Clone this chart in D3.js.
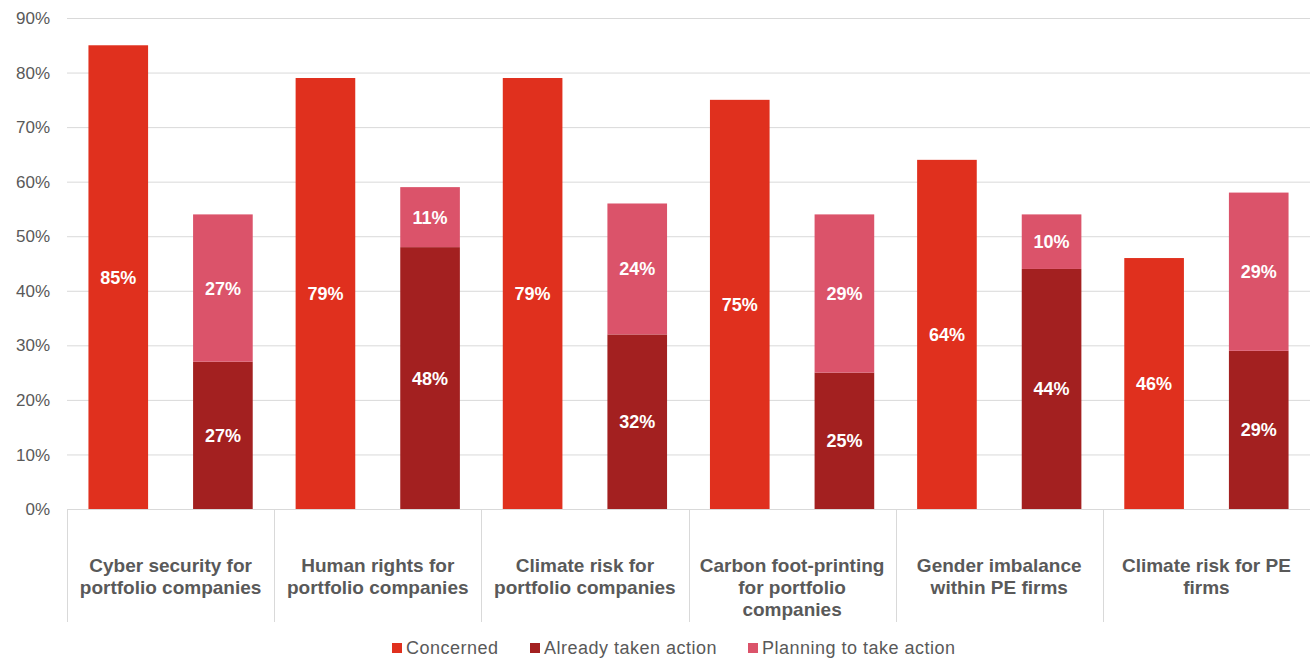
<!DOCTYPE html>
<html>
<head>
<meta charset="utf-8">
<script src="https://cdn.jsdelivr.net/npm/d3@7"></script>
<style>
  body { margin: 0; background: #fff; }
  svg { display: block; font-family: "Liberation Sans", Arial, sans-serif; }
</style>
</head>
<body>
<div id="chart"></div>
<script>
// Chart data
const categories = [
    ["Cyber security for", "portfolio companies"],
    ["Human rights for", "portfolio companies"],
    ["Climate risk for", "portfolio companies"],
    ["Carbon foot-printing", "for portfolio", "companies"],
    ["Gender imbalance", "within PE firms"],
    ["Climate risk for PE", "firms"]
];
const concerned = [85, 79, 79, 75, 64, 46];
const alreadyTaken = [27, 48, 32, 25, 44, 29];
const planning = [27, 11, 24, 29, 10, 29];
const yTicks = [0, 10, 20, 30, 40, 50, 60, 70, 80, 90];
const seriesNames = ["Concerned", "Already taken action", "Planning to take action"];
const colors = ["#E0301E", "#A32020", "#DB536A"];

const width = 1310;
const height = 658;
const margin = { top: 18, right: 0, bottom: 149, left: 67 };

const svg = d3.select("#chart")
    .append("svg")
    .attr("width", width)
    .attr("height", height);

const x = d3.scaleBand()
    .domain(d3.range(categories.length))
    .range([margin.left, width - margin.right])
    .padding(0);

const xInner = d3.scaleBand()
    .domain([0, 1])
    .range([0, x.bandwidth()])
    .paddingInner(0.43)
    .paddingOuter(0.205);

const y = d3.scaleLinear()
    .domain([0, 90])
    .range([height - margin.bottom, margin.top]);

// Gridlines
svg.append("g")
    .selectAll("line")
    .data(yTicks)
    .enter()
    .append("line")
    .attr("x1", margin.left)
    .attr("x2", width - margin.right)
    .attr("y1", d => y(d) + 0.5)
    .attr("y2", d => y(d) + 0.5)
    .attr("stroke", "#d9d9d9")
    .attr("stroke-width", 1);

// Y labels
svg.append("g")
    .selectAll("text")
    .data(yTicks)
    .enter()
    .append("text")
    .attr("x", 50)
    .attr("y", d => y(d))
    .attr("dy", "0.36em")
    .attr("text-anchor", "end")
    .attr("font-size", "17px")
    .attr("fill", "#595959")
    .text(d => d + "%");

// Category separators below axis
const bounds = d3.range(categories.length + 1).map(i => i < categories.length ? x(i) : x(i - 1) + x.bandwidth());
svg.append("g")
    .selectAll("line")
    .data(bounds)
    .enter()
    .append("line")
    .attr("x1", d => Math.round(d) + 0.5)
    .attr("x2", d => Math.round(d) + 0.5)
    .attr("y1", y(0))
    .attr("y2", 622)
    .attr("stroke", "#d9d9d9");

const groups = svg.append("g")
    .selectAll("g")
    .data(categories)
    .enter()
    .append("g")
    .attr("transform", (d, i) => `translate(${x(i)},0)`);

// Concerned bars
groups.append("rect")
    .attr("x", xInner(0))
    .attr("width", xInner.bandwidth())
    .attr("y", (d, i) => y(concerned[i]))
    .attr("height", (d, i) => y(0) - y(concerned[i]))
    .attr("fill", colors[0]);

// Already taken action
groups.append("rect")
    .attr("x", xInner(1))
    .attr("width", xInner.bandwidth())
    .attr("y", (d, i) => y(alreadyTaken[i]))
    .attr("height", (d, i) => y(0) - y(alreadyTaken[i]))
    .attr("fill", colors[1]);

// Planning stacked on top
groups.append("rect")
    .attr("x", xInner(1))
    .attr("width", xInner.bandwidth())
    .attr("y", (d, i) => y(alreadyTaken[i] + planning[i]))
    .attr("height", (d, i) => y(alreadyTaken[i]) - y(alreadyTaken[i] + planning[i]))
    .attr("fill", colors[2]);

// Value labels
function addLabel(xPos, yFn, textFn) {
    groups.append("text")
        .attr("x", xPos)
        .attr("y", yFn)
        .attr("dy", "0.36em")
        .attr("text-anchor", "middle")
        .attr("font-size", "18px")
        .attr("font-weight", "bold")
        .attr("fill", "#fff")
        .text(textFn);
}
const c0 = xInner(0) + xInner.bandwidth() / 2;
const c1 = xInner(1) + xInner.bandwidth() / 2;
addLabel(c0, (d, i) => y(concerned[i] / 2), (d, i) => concerned[i] + "%");
addLabel(c1, (d, i) => y(alreadyTaken[i] / 2), (d, i) => alreadyTaken[i] + "%");
addLabel(c1, (d, i) => y(alreadyTaken[i] + planning[i] / 2), (d, i) => planning[i] + "%");

// Category labels
groups.append("text")
    .attr("text-anchor", "middle")
    .attr("font-size", "19px")
    .attr("font-weight", "bold")
    .attr("fill", "#595959")
    .selectAll("tspan")
    .data(d => d)
    .enter()
    .append("tspan")
    .attr("x", x.bandwidth() / 2)
    .attr("y", (d, j) => 572 + j * 22)
    .text(d => d);

// Legend
const legendX = [392, 530, 748];
const legend = svg.append("g")
    .selectAll("g")
    .data(seriesNames)
    .enter()
    .append("g")
    .attr("transform", (d, i) => `translate(${legendX[i]},648)`);

legend.append("rect")
    .attr("x", 0)
    .attr("y", -5)
    .attr("width", 10)
    .attr("height", 10)
    .attr("fill", (d, i) => colors[i]);

legend.append("text")
    .attr("x", 14)
    .attr("y", 0)
    .attr("dy", "0.36em")
    .attr("font-size", "18px")
    .attr("letter-spacing", "0.5px")
    .attr("fill", "#595959")
    .text(d => d);
</script>
</body>
</html>
